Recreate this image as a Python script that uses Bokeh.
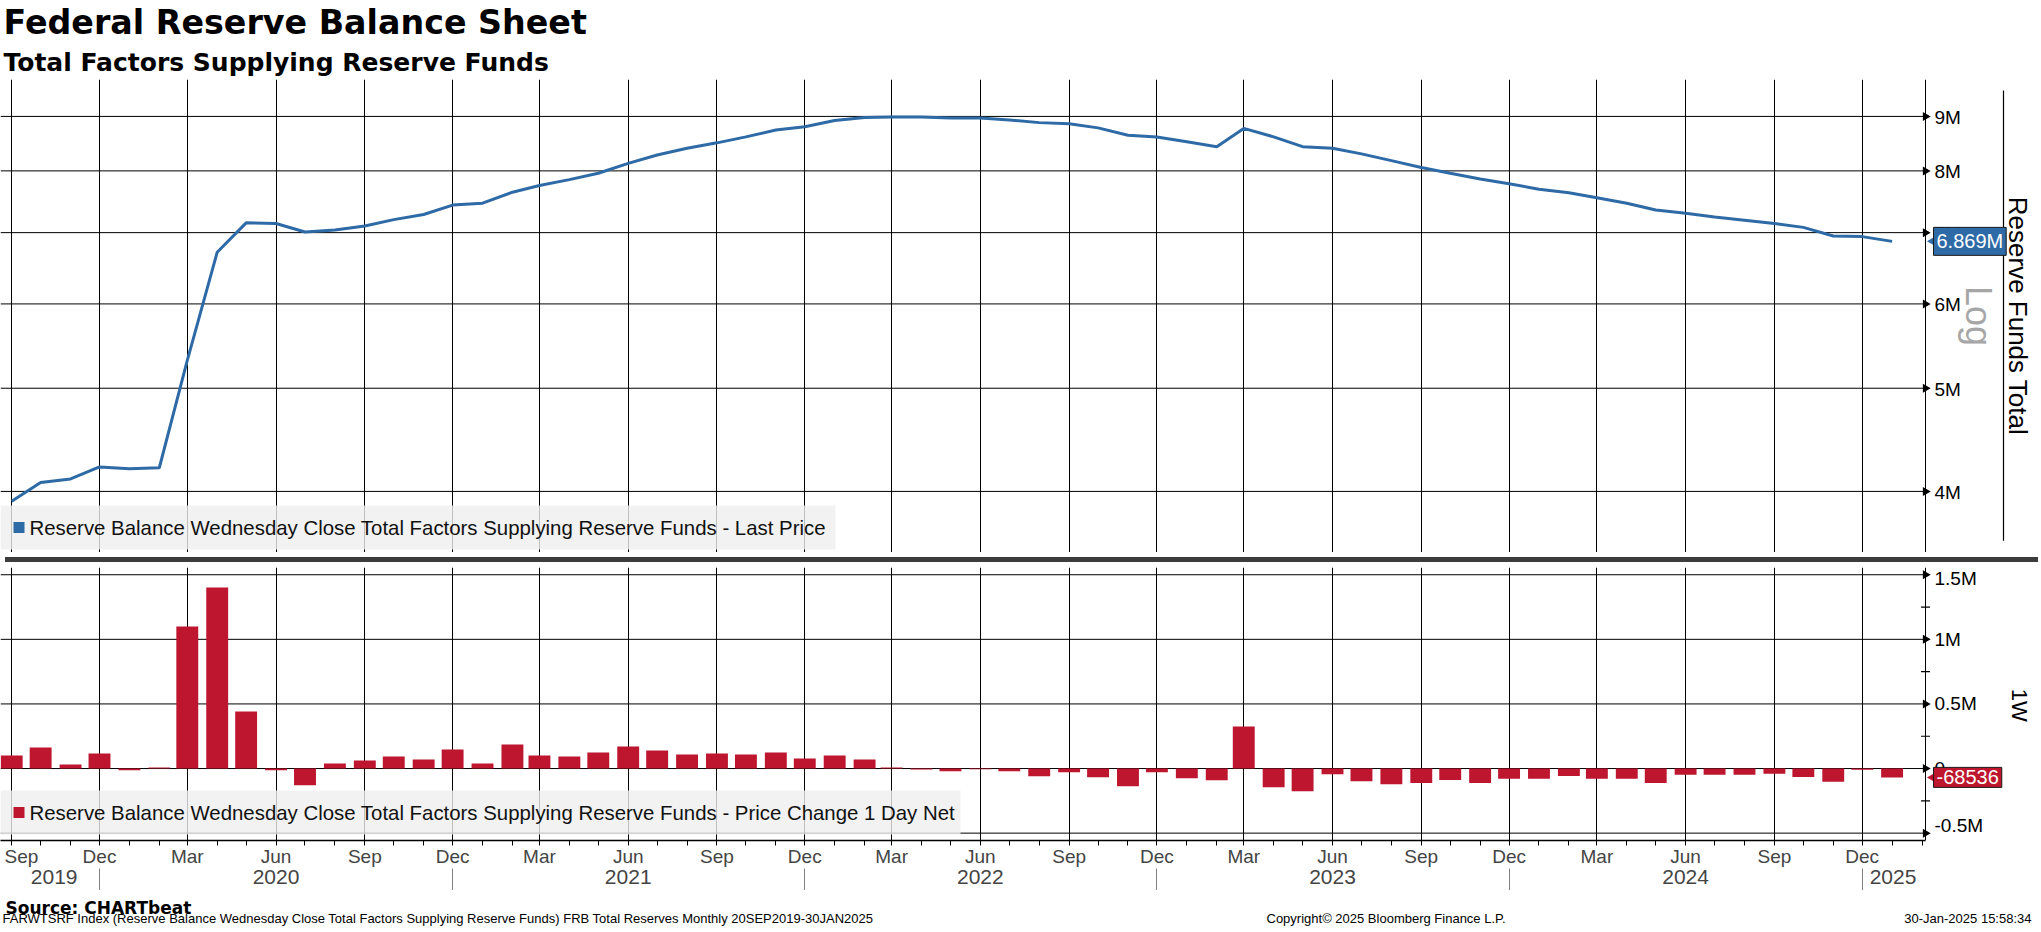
import math
import pandas as pd
from bokeh.plotting import figure
from bokeh.models import (Range1d, FixedTicker, CustomJSTickFormatter, LinearAxis, Grid,
                          Span, Title, Div, BoxAnnotation, Label)
from bokeh.core.properties import value
from bokeh.layouts import column
from bokeh.embed import file_html
from bokeh.resources import INLINE

# ---------------- data (millions of USD) ----------------
months = pd.date_range("2019-09-01", "2025-01-01", freq="MS")

total_m = [3.915, 4.077, 4.109, 4.217, 4.200, 4.210, 5.310, 6.710, 7.150, 7.140,
           7.010, 7.040, 7.100, 7.200, 7.280, 7.430, 7.460, 7.640, 7.750, 7.850,
           7.960, 8.130, 8.280, 8.400, 8.500, 8.610, 8.740, 8.800, 8.920, 8.980,
           8.990, 8.990, 8.970, 8.970, 8.930, 8.880, 8.860, 8.780, 8.640, 8.610,
           8.520, 8.430, 8.770, 8.610, 8.430, 8.400, 8.300, 8.180, 8.060, 7.960,
           7.860, 7.780, 7.690, 7.630, 7.550, 7.460, 7.350, 7.300, 7.240, 7.190,
           7.140, 7.080, 6.950, 6.940, 6.869]

change_m = [0.100, 0.163, 0.031, 0.116, -0.013, 0.008, 1.099, 1.401, 0.441, -0.013,
            -0.129, 0.039, 0.062, 0.093, 0.070, 0.147, 0.039, 0.186, 0.101, 0.093,
            0.124, 0.170, 0.139, 0.108, 0.116, 0.108, 0.124, 0.077, 0.101, 0.070,
            0.008, -0.008, -0.021, -0.005, -0.021, -0.059, -0.028, -0.067, -0.137, -0.028,
            -0.075, -0.090, 0.325, -0.144, -0.175, -0.044, -0.098, -0.121, -0.111, -0.088,
            -0.111, -0.080, -0.080, -0.057, -0.080, -0.080, -0.111, -0.049, -0.049, -0.049,
            -0.041, -0.065, -0.103, -0.010, -0.068536]

total = [v * 1e6 for v in total_m]
change = [v * 1e6 for v in change_m]

top_ticks = [4e6, 5e6, 6e6, 7e6, 8e6, 9e6]
top_labels = ["4M", "5M", "6M", "7M", "8M", "9M"]
bot_ticks = [-0.5e6, 0.0, 0.5e6, 1.0e6, 1.5e6]
bot_labels = ["-0.5M", "0", "0.5M", "1M", "1.5M"]
bot_minor = [-0.25e6, 0.25e6, 0.75e6, 1.25e6]
year_label_dates = ["2019-10-15", "2020-06-01", "2021-06-01", "2022-06-01",
                    "2023-06-01", "2024-06-01", "2025-01-02"]

title = "Federal Reserve Balance Sheet"
subtitle = "Total Factors Supplying Reserve Funds"
top_axis_title = "Reserve Funds Total"
log_note = "Log"
bot_axis_title = "1W"
legend_top = "Reserve Balance Wednesday Close Total Factors Supplying Reserve Funds - Last Price"
legend_bot = "Reserve Balance Wednesday Close Total Factors Supplying Reserve Funds - Price Change 1 Day Net"
source_txt = "Source: CHARTbeat"
footer_txt = ("FARWTSRF Index (Reserve Balance Wednesday Close Total Factors Supplying Reserve Funds) "
              "FRB Total Reserves  Monthly 20SEP2019-30JAN2025")
copyright_txt = "Copyright\u00a9 2025 Bloomberg Finance L.P."
stamp_txt = "30-Jan-2025 15:58:34"

# ---------------- styling / layout ----------------
BLUE = "#2d6aa6"
RED = "#bd162e"
FONT = "Liberation Sans"
BOLD = "DejaVu Sans"
W = 2033
PX_PER_DAY = 0.9648      # horizontal scale of the reference
FIRST_PX = 11.2          # x of the first month
AXIS_PX = 1925           # x of the value axis
TOP_LABEL_DY = [1, 1, 1, 1, 1, 1]
BOT_LABEL_DY = [-8, 0, 0, 0, 4]


def page_date(px):
    return months[0] + pd.Timedelta(days=(px - FIRST_PX) / PX_PER_DAY)


def ms(d):
    return int(pd.Timestamp(d).timestamp() * 1000)


x_lo, x_hi = page_date(0), page_date(W)
axis_x = ms(page_date(AXIS_PX))
bracket_x = ms(page_date(2003))
pointer_x = ms(page_date(1938))

quarters = [d for d in months if d.month in (3, 6, 9, 12)]
q_ms = [ms(d) for d in quarters]
label_ms = [ms(page_date(21))] + q_ms[1:]          # first label kept inside the frame
minor_ms = [ms(d) for d in pd.date_range(months[0], "2025-02-01", freq="MS")]
dec_ms = [ms(d) for d in quarters if d.month == 12]
year_ms = [ms(d) for d in year_label_dates]

Y1_LO, Y1_HI = 3.505e6, 9.748e6
Y2_LO, Y2_HI = -0.557e6, 1.556e6
y1_mid = math.sqrt(Y1_LO * Y1_HI)

x_range = Range1d(x_lo, x_hi)


def right_axis(p, ticks, labels, dy, minor=None):
    n = len(ticks)
    p.segment(x0=[ms(x_lo)] * n, x1=[axis_x] * n, y0=ticks, y1=ticks,
              line_color="black", line_width=1)
    p.add_layout(Span(location=axis_x, dimension="height", line_color="black", line_width=1))
    p.scatter(x=[axis_x] * n, y=ticks, marker="triangle", angle=-math.pi / 2, size=9,
              fill_color="black", line_color=None)
    if minor:
        p.scatter(x=[axis_x] * len(minor), y=minor, marker="dash", size=9,
                  line_color="black", line_width=1.2)
    p.text(x=[axis_x] * n, y=ticks, text=labels, x_offset=9, y_offset=dy,
           text_baseline="middle", text_align="left", text_font=value(FONT),
           text_font_size="19px", text_color="black")


def tag(p, yv, txt, color):
    p.scatter(x=[pointer_x], y=[yv], marker="triangle", angle=math.pi / 2, size=20,
              fill_color=color, line_color=None)
    p.text(x=[axis_x], y=[yv], text=[txt], x_offset=8, text_baseline="middle",
           text_align="left", text_font=value(FONT), text_font_size="20px",
           text_color="white", background_fill_color=color,
           border_line_color="#1a1a1a", padding=3)


def legend_box(p, txt, color, bottom, right):
    p.add_layout(BoxAnnotation(left=0, right=right, bottom=bottom, top=bottom + 44,
                               left_units="screen", right_units="screen",
                               bottom_units="screen", top_units="screen",
                               fill_color="#efefef", fill_alpha=0.8, line_color=None))
    p.add_layout(BoxAnnotation(left=13, right=24, bottom=bottom + 16.5, top=bottom + 27.5,
                               left_units="screen", right_units="screen",
                               bottom_units="screen", top_units="screen",
                               fill_color=color, fill_alpha=1.0, line_color=None))
    p.add_layout(Label(x=29, y=bottom + 22, x_units="screen", y_units="screen", text=txt,
                       text_font=FONT, text_font_size="20.4px", text_baseline="middle",
                       text_color="#111111"))


# ---------------- top panel ----------------
p1 = figure(width=W, height=552, x_axis_type="datetime", y_axis_type="log",
            x_range=x_range, y_range=Range1d(Y1_LO, Y1_HI),
            x_axis_location=None, y_axis_location=None,
            toolbar_location=None, output_backend="svg",
            min_border_left=0, min_border_right=0, min_border_top=74, min_border_bottom=0,
            outline_line_color=None)
p1.center = []
p1.add_layout(Grid(dimension=0, ticker=FixedTicker(ticks=q_ms), grid_line_color="black",
                   grid_line_width=1))
p1.add_layout(Title(text=subtitle, align="left", offset=3, standoff=6, text_font=BOLD,
                    text_font_size="25px", text_font_style="bold", text_color="black"), "above")
p1.add_layout(Title(text=title, align="left", offset=3, standoff=1, text_font=BOLD,
                    text_font_size="33.3px", text_font_style="bold", text_color="black"), "above")

right_axis(p1, top_ticks, top_labels, TOP_LABEL_DY)

p1.line(x=months, y=total, line_color=BLUE, line_width=3)

legend_box(p1, legend_top, BLUE, 3, 835)

p1.text(x=[axis_x], y=[y1_mid], text=[log_note], angle=-math.pi / 2, x_offset=53,
        text_align="center", text_baseline="middle", text_font=value(FONT),
        text_font_size="36px", text_color="#a6a6a6")
p1.segment(x0=[bracket_x], x1=[bracket_x],
           y0=[Y1_LO * (Y1_HI / Y1_LO) ** (12 / 478)], y1=[Y1_LO * (Y1_HI / Y1_LO) ** (467 / 478)],
           line_color="black", line_width=1.2)
p1.text(x=[axis_x], y=[y1_mid], text=[top_axis_title], angle=-math.pi / 2, x_offset=92,
        text_align="center", text_baseline="middle", text_font=value(FONT),
        text_font_size="26px", text_color="black")
tag(p1, total[-1], f"{total_m[-1]:.3f}M", BLUE)

sep = Div(text="", width=W, height=5, styles={"background-color": "#3c3c3c"})

# ---------------- bottom panel ----------------
p2 = figure(width=W, height=323, x_axis_type="datetime", x_range=x_range,
            y_range=Range1d(Y2_LO, Y2_HI), y_axis_location=None,
            toolbar_location=None, output_backend="svg",
            min_border_left=0, min_border_right=0, min_border_top=0, min_border_bottom=50,
            outline_line_color=None)
p2.center = []
p2.add_layout(Grid(dimension=0, ticker=FixedTicker(ticks=q_ms), grid_line_color="black",
                   grid_line_width=1))

right_axis(p2, bot_ticks, bot_labels, BOT_LABEL_DY, bot_minor)

p2.vbar(x=months, top=change, bottom=0, width=22.7 * 86400000, fill_color=RED, line_color=None)

xa = p2.xaxis[0]
xa.ticker = FixedTicker(ticks=label_ms, minor_ticks=minor_ms)
xa.formatter = CustomJSTickFormatter(code="""
const m = ['Jan','Feb','Mar','Apr','May','Jun','Jul','Aug','Sep','Oct','Nov','Dec'];
return m[new Date(tick).getUTCMonth()];""")
xa.bounds = (ms(x_lo), axis_x)
xa.axis_line_color = "black"
xa.axis_line_width = 1.5
xa.major_tick_line_color = None
xa.major_tick_out = 0
xa.major_tick_in = 0
xa.minor_tick_out = 5
xa.minor_tick_in = 0
xa.minor_tick_line_color = "black"
xa.major_label_text_font = FONT
xa.major_label_text_font_size = "19px"
xa.major_label_standoff = 0

yr_axis = LinearAxis(ticker=FixedTicker(ticks=year_ms, minor_ticks=dec_ms),
                     formatter=CustomJSTickFormatter(code="return String(new Date(tick).getUTCFullYear());"),
                     axis_line_color=None, major_tick_line_color=None,
                     major_tick_out=0, major_tick_in=0,
                     minor_tick_in=1, minor_tick_out=26, minor_tick_line_color="#808080",
                     major_label_text_font=FONT, major_label_text_font_size="21px",
                     major_label_standoff=-26)
p2.add_layout(yr_axis, "below")

legend_box(p2, legend_bot, RED, 6, 960)

p2.text(x=[axis_x], y=[0.49e6], text=[bot_axis_title], angle=-math.pi / 2, x_offset=94,
        text_align="center", text_baseline="middle", text_font=value(FONT),
        text_font_size="22px", text_color="black")
tag(p2, change[-1], f"{round(change[-1]):d}", RED)

# ---------------- footer ----------------
FH = 36
pf = figure(width=W, height=FH, x_range=Range1d(0, W), y_range=Range1d(FH, 0),
            x_axis_location=None, y_axis_location=None, toolbar_location=None,
            output_backend="svg", min_border=0, outline_line_color=None)
pf.center = []
pf.text(x=[5], y=[17], text=[source_txt], text_font=value(BOLD), text_font_style="bold",
        text_font_size="17px", text_baseline="alphabetic", text_color="black")
pf.text(x=[2, 1266], y=[28, 28], text=[footer_txt, copyright_txt], text_font=value(FONT),
        text_font_size="13px", text_baseline="alphabetic", text_color="black")
pf.text(x=[W - 2], y=[28], text=[stamp_txt], text_font=value(FONT), text_align="right",
        text_font_size="13px", text_baseline="alphabetic", text_color="black")

layout = column(p1, sep, p2, pf)
open("out.html", "w").write(file_html(layout, INLINE))
